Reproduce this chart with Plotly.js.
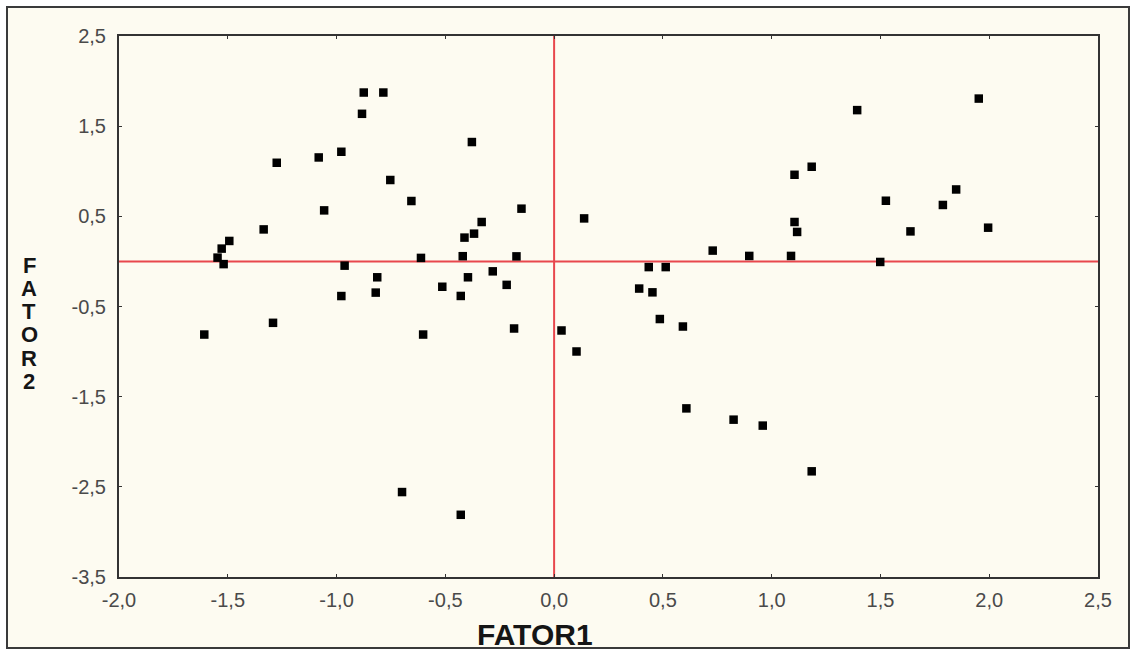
<!DOCTYPE html>
<html>
<head>
<meta charset="utf-8">
<script src="https://cdn.plot.ly/plotly-3.0.1.min.js"></script>
<style>
html,body{margin:0;padding:0;background:#ffffff;}
#chart{width:1131px;height:657px;}
</style>
</head>
<body>
<div id="chart"></div>
<script>
// FATOR1 (x) and FATOR2 (y) scores
var fator1 = [
  -1.608, -1.547, -1.528, -1.519, -1.493, -1.335, -1.292, -1.275, -1.082, -1.057,
  -0.978, -0.978, -0.963, -0.883, -0.875, -0.785, -0.820, -0.813, -0.753, -0.699,
  -0.656, -0.612, -0.602, -0.514, -0.429, -0.429, -0.420, -0.412, -0.396, -0.378,
  -0.368, -0.333, -0.282, -0.218, -0.184, -0.173, -0.150, 0.034, 0.103, 0.138,
  0.391, 0.435, 0.452, 0.486, 0.513, 0.592, 0.608, 0.729, 0.825, 0.897,
  0.959, 1.089, 1.105, 1.105, 1.117, 1.184, 1.184, 1.393, 1.499, 1.525,
  1.638, 1.787, 1.848, 1.952, 1.995
];
var fator2 = [
  -0.811, 0.042, 0.142, -0.030, 0.227, 0.355, -0.681, 1.094, 1.153, 0.566,
  1.216, -0.384, -0.047, 1.637, 1.873, 1.873, -0.346, -0.176, 0.903, -2.558,
  0.670, 0.039, -0.811, -0.281, -0.383, -2.810, 0.058, 0.264, -0.176, 1.324,
  0.308, 0.437, -0.110, -0.260, -0.744, 0.056, 0.585, -0.766, -0.999, 0.477,
  -0.301, -0.063, -0.343, -0.639, -0.063, -0.722, -1.630, 0.120, -1.755, 0.061,
  -1.821, 0.061, 0.961, 0.437, 0.327, 1.050, -2.328, 1.678, -0.006, 0.673,
  0.333, 0.626, 0.798, 1.806, 0.374
];

var xTickVals = [-2.0, -1.5, -1.0, -0.5, 0.0, 0.5, 1.0, 1.5, 2.0, 2.5];
var xTickText = ["-2,0", "-1,5", "-1,0", "-0,5", "0,0", "0,5", "1,0", "1,5", "2,0", "2,5"];
var yTickVals = [2.5, 1.5, 0.5, -0.5, -1.5, -2.5, -3.5];
var yTickText = ["2,5", "1,5", "0,5", "-0,5", "-1,5", "-2,5", "-3,5"];

var xTitle = "FATOR1";
var yTitle = "FATOR2";

var trace = {
  x: fator1,
  y: fator2,
  type: 'scatter',
  mode: 'markers',
  marker: {symbol: 'square', size: 8.5, color: '#000000', line: {width: 0}},
  hoverinfo: 'x+y',
  showlegend: false
};

// frame in paper coords
var L = 119, R = 1098, T = 36, B = 577;
function px2x(p){ return (p - L) / (R - L); }
function py2y(p){ return (B - p) / (B - T); }

var titleFont = {size: 22, color: '#151515', family: 'Liberation Sans, Arial, sans-serif'};
var annotations = [
  {xref: 'paper', yref: 'paper', x: px2x(535), y: py2y(634),
   xanchor: 'center', yanchor: 'middle', showarrow: false,
   text: '<b>' + xTitle + '</b>',
   font: {size: 30, color: '#151515', family: 'Liberation Sans, Arial, sans-serif'}}
];
// vertical stacked letters for the y title
yTitle.split('').forEach(function(ch, i){
  annotations.push({xref: 'paper', yref: 'paper', x: px2x(29), y: py2y(265 + i * 23.3),
    xanchor: 'center', yanchor: 'middle', showarrow: false,
    text: '<b>' + ch + '</b>', font: titleFont});
});

var layout = {
  width: 1131,
  height: 657,
  margin: {l: L, r: 1131 - R, t: T, b: 657 - B, pad: 0},
  paper_bgcolor: '#ffffff',
  plot_bgcolor: '#ffffff',
  font: {family: 'Liberation Sans, Arial, sans-serif', color: '#444444'},
  xaxis: {
    range: [-2.0, 2.5],
    tickvals: xTickVals,
    ticktext: xTickText,
    tickfont: {size: 20, color: '#4a4a4a'},
    ticks: 'inside',
    ticklen: 3,
    tickcolor: '#333333',
    showline: true,
    linecolor: '#333333',
    linewidth: 2,
    mirror: 'ticks',
    showgrid: false,
    zeroline: false,
    ticklabelstandoff: 4,
    title: {text: ''}
  },
  yaxis: {
    range: [-3.5, 2.5],
    tickvals: yTickVals,
    ticktext: yTickText,
    tickfont: {size: 20, color: '#4a4a4a'},
    ticks: 'inside',
    ticklen: 3,
    tickcolor: '#333333',
    showline: true,
    linecolor: '#333333',
    linewidth: 2,
    mirror: 'ticks',
    showgrid: false,
    zeroline: false,
    ticklabelstandoff: 7,
    title: {text: ''}
  },
  shapes: [
    {type: 'rect', xref: 'paper', yref: 'paper', layer: 'below',
     x0: px2x(7), x1: px2x(1129), y0: py2y(648), y1: py2y(7),
     fillcolor: '#fdfbf1', line: {color: '#3a3a3a', width: 2}},
    {type: 'line', xref: 'x', yref: 'paper', layer: 'below',
     x0: 0, x1: 0, y0: 0, y1: 1, line: {color: '#e8474d', width: 2}},
    {type: 'line', xref: 'paper', yref: 'y', layer: 'below',
     x0: 0, x1: 1, y0: 0, y1: 0, line: {color: '#e8474d', width: 2}}
  ],
  annotations: annotations
};

Plotly.newPlot('chart', [trace], layout, {displayModeBar: false, staticPlot: true});
</script>
</body>
</html>
